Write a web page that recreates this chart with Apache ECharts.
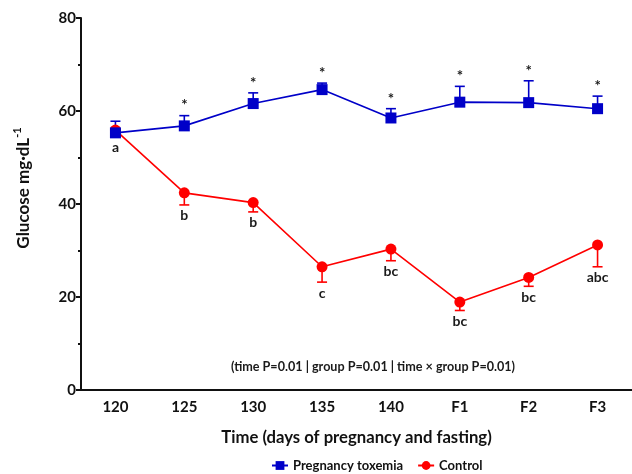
<!DOCTYPE html>
<html>
<head>
<meta charset="utf-8">
<script src="https://cdn.jsdelivr.net/npm/echarts@6/dist/echarts.min.js"></script>
<style>html,body{margin:0;padding:0;background:#fff}#c{width:632px;height:474px}</style>
</head>
<body>
<div id="c"></div>
<script>
var categories = ['120', '125', '130', '135', '140', 'F1', 'F2', 'F3'];
var toxemiaMean = [55.3, 56.8, 61.6, 64.6, 58.5, 61.9, 61.8, 60.5];
var toxemiaErr = [2.5, 2.2, 2.3, 1.4, 2.0, 3.4, 4.7, 2.7];
var toxemiaMarks = ['', '*', '*', '*', '*', '*', '*', '*'];
var controlMean = [55.9, 42.4, 40.3, 26.5, 30.3, 18.9, 24.2, 31.2];
var controlErr = [1.4, 2.6, 2.0, 3.3, 2.5, 1.8, 1.9, 4.7];
var controlLetters = ['a', 'b', 'b', 'c', 'bc', 'bc', 'bc', 'abc'];
var yTicks = [0, 20, 40, 60, 80];

var FONT = 'Lato';
var BLUE = '#0000c8';
var RED = '#ff0000';

function errData(means, errs) {
  return means.map(function (m, i) { return [i, m, errs[i]]; });
}

function makeErrRender(dir, color, labels, textOffset, textSize) {
  return function (params, api) {
    var i = api.value(0), m = api.value(1), e = api.value(2);
    var lab = labels[params.dataIndex];
    var p0 = api.coord([i, m]);
    var p1 = api.coord([i, m + dir * e]);
    var cap = 5;
    var children = [
      { type: 'line', shape: { x1: p0[0], y1: p0[1], x2: p1[0], y2: p1[1] }, style: { stroke: color, lineWidth: 1.6 } },
      { type: 'line', shape: { x1: p1[0] - cap, y1: p1[1], x2: p1[0] + cap, y2: p1[1] }, style: { stroke: color, lineWidth: 1.6 } }
    ];
    if (lab) {
      children.push({
        type: 'text',
        x: p1[0], y: p1[1] - dir * textOffset,
        style: {
          text: lab,
          align: 'center', verticalAlign: 'middle',
          fontFamily: FONT, fontWeight: 'bold', fontSize: textSize, fill: '#1a1a1a'
        }
      });
    }
    return { type: 'group', children: children };
  };
}

var chart = echarts.init(document.getElementById('c'), null, { renderer: 'canvas' });
chart.setOption({
  animation: false,
  backgroundColor: '#fff',
  grid: { left: 81, top: 18, width: 559, height: 372, containLabel: false },
  xAxis: {
    type: 'category',
    data: categories,
    boundaryGap: true,
    name: 'Time (days of pregnancy and fasting)',
    nameLocation: 'middle',
    nameGap: 39,
    nameTextStyle: { fontFamily: FONT, fontWeight: 'bold', fontSize: 16.7, color: '#111' },
    axisLine: { lineStyle: { color: '#111', width: 2 } },
    axisTick: { alignWithLabel: true, length: 5, lineStyle: { color: '#111', width: 2 } },
    axisLabel: { fontFamily: FONT, fontWeight: 'bold', fontSize: 15, color: '#111', margin: 10 },
    splitLine: { show: false }
  },
  yAxis: {
    type: 'value',
    min: yTicks[0],
    max: yTicks[yTicks.length - 1],
    interval: 20,
    axisLine: { show: true, lineStyle: { color: '#111', width: 2 } },
    axisTick: { show: true, length: 5, lineStyle: { color: '#111', width: 2 } },
    minorTick: { show: true, splitNumber: 2, length: 3, lineStyle: { color: '#111', width: 2 } },
    axisLabel: { fontFamily: FONT, fontWeight: 'bold', fontSize: 15, color: '#111', margin: 5 },
    splitLine: { show: false }
  },
  legend: {
    top: 454,
    left: 266,
    itemWidth: 16,
    itemHeight: 11,
    itemGap: 14,
    textStyle: { fontFamily: FONT, fontWeight: 'bold', fontSize: 13, color: '#111' },
    data: ['Pregnancy toxemia', 'Control']
  },
  graphic: [
    {
      type: 'text', x: 22, y: 188, rotation: Math.PI / 2,
      style: {
        text: '{m|Glucose mg·dL}{s|-1}', align: 'center', verticalAlign: 'middle',
        rich: {
          m: { fontFamily: FONT, fontWeight: 'bold', fontSize: 17, fill: '#111', verticalAlign: 'bottom' },
          s: { fontFamily: FONT, fontWeight: 'bold', fontSize: 11, fill: '#111', verticalAlign: 'top', padding: [0, 0, 9, 0] }
        }
      }
    },
    {
      type: 'text', x: 373, y: 367,
      style: {
        text: '(time P=0.01 | group P=0.01 | time × group P=0.01)',
        align: 'center', verticalAlign: 'middle',
        font: 'bold 12.6px ' + FONT, fill: '#1a1a1a'
      }
    }
  ],
  series: [
    {
      name: 'Pregnancy toxemia', type: 'line', data: toxemiaMean,
      symbol: 'rect', symbolSize: 11, z: 4,
      lineStyle: { color: BLUE, width: 1.6 }, itemStyle: { color: BLUE }
    },
    {
      name: 'Control', type: 'line', data: controlMean,
      symbol: 'circle', symbolSize: 11, z: 3,
      lineStyle: { color: RED, width: 1.6 }, itemStyle: { color: RED }
    },
    {
      type: 'custom', name: 'tox-err', data: errData(toxemiaMean, toxemiaErr),
      renderItem: makeErrRender(1, BLUE, toxemiaMarks, 10, 15), z: 2, silent: true
    },
    {
      type: 'custom', name: 'ctl-err', data: errData(controlMean, controlErr),
      renderItem: makeErrRender(-1, RED, controlLetters, 11, 14), z: 1, silent: true
    }
  ]
});
</script>
</body>
</html>
